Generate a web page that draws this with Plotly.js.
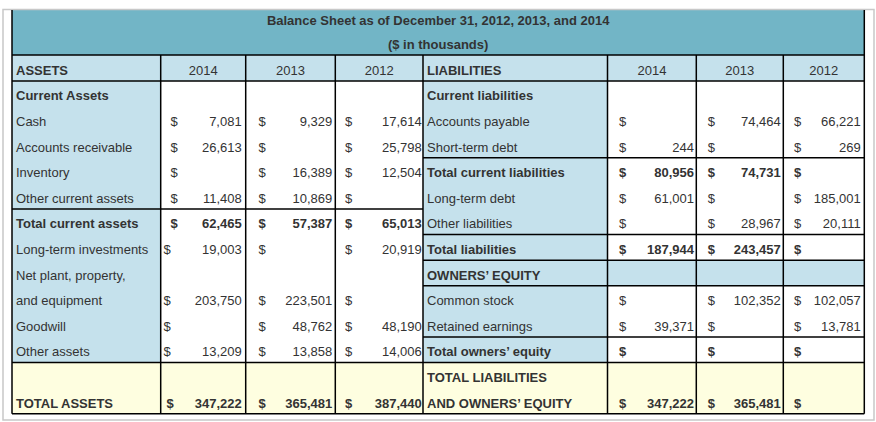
<!DOCTYPE html>
<html><head><meta charset="utf-8">
<script src="https://cdn.plot.ly/plotly-3.0.1.min.js"></script>
<style>html,body{margin:0;padding:0;background:#fff}#chart{width:876px;height:422px}</style>
</head><body><div id="chart"></div>
<script>
// ---------------- data ----------------
const titleLines = ["Balance Sheet as of December 31, 2012, 2013, and 2014", "($ in thousands)"];
const years = ["2014", "2013", "2012"];
const assetHeader = "ASSETS";
const liabHeader = "LIABILITIES";

const assetLabels = ["Current Assets", "Cash", "Accounts receivable", "Inventory", "Other current assets",
  "Total current assets", "Long-term investments", "Net plant, property,", "and equipment", "Goodwill",
  "Other assets", "", "TOTAL ASSETS"];
// null = empty cell, "" = "$" shown with no amount
const assets2014 = [null, 7081, 26613, "", 11408, 62465, 19003, null, 203750, "", 13209, null, 347222];
const assets2013 = [null, 9329, "", 16389, 10869, 57387, "", null, 223501, 48762, 13858, null, 365481];
const assets2012 = [null, 17614, 25798, 12504, "", 65013, 20919, null, "", 48190, 14006, null, 387440];

const liabLabels = ["Current liabilities", "Accounts payable", "Short-term debt", "Total current liabilities",
  "Long-term debt", "Other liabilities", "Total liabilities", "OWNERS\u2019 EQUITY", "Common stock",
  "Retained earnings", "Total owners\u2019 equity", "TOTAL LIABILITIES", "AND OWNERS\u2019 EQUITY"];
const liab2014 = [null, "", 244, 80956, 61001, "", 187944, null, "", 39371, "", null, 347222];
const liab2013 = [null, 74464, "", 74731, "", 28967, 243457, null, 102352, "", "", null, 365481];
const liab2012 = [null, 66221, 269, "", 185001, 20111, "", null, 102057, 13781, "", null, ""];

// ---------------- styling / geometry ----------------
const assetBoldRows = [0, 5, 12];
const liabBoldRows = [0, 3, 6, 7, 10, 11, 12];

const FONT = "Liberation Sans, Arial, Helvetica, sans-serif";
const TEXT = "#333333";
const TEAL = "#72b5c6";
const BLUE = "#c5e1ec";
const YELLOW = "#fefee0";
const FRAME = "#c8c8c8";

const TOP = 10, TITLE_BOTTOM = 55, HEAD_BOTTOM = 81, ROW_H = 25.6, NROWS = 13;
const TEXT_DY = 3.3;
const L_EDGES = [12, 160.7, 245.7, 335.3, 423];
const R_EDGES = [423, 607.5, 696.3, 783.3, 864.3];
const L_DOLLAR = [170.5, 258.5, 345];
const R_DOLLAR = [619, 707.7, 794];
const L_VALEND = [241.7, 332.3, 421.7];
const R_VALEND = [694, 780.7, 860.7];
const L_LABEL_X = 16, R_LABEL_X = 427;
const left2014DollarShift = [0, 0, 0, 0, 0, 0, -7, -7, -7, -7, -7, -7, -4];

// ---------------- build ----------------
const rowTop = i => HEAD_BOTTOM + ROW_H * i;
const rowY = i => HEAD_BOTTOM + ROW_H * (i + 0.5) + TEXT_DY;
const fmt = n => String(n).replace(/\B(?=(\d{3})+(?!\d))/g, ",");
const b = (s, bold) => bold ? "<b>" + s + "</b>" : s;

const leftAl = {x: [], y: [], t: []};
const rightAl = {x: [], y: [], t: []};
const centerAl = {x: [], y: [], t: []};
const push = (g, x, y, t) => { g.x.push(x); g.y.push(y); g.t.push(t); };

// title
push(centerAl, (L_EDGES[0] + R_EDGES[4]) / 2, TOP + 11.5, "<b>" + titleLines[0] + "</b>");
push(centerAl, (L_EDGES[0] + R_EDGES[4]) / 2, TOP + 35.5, "<b>" + titleLines[1] + "</b>");
// headers
const headY = (TITLE_BOTTOM + HEAD_BOTTOM) / 2 + TEXT_DY;
push(leftAl, L_LABEL_X, headY, "<b>" + assetHeader + "</b>");
push(leftAl, R_LABEL_X, headY, "<b>" + liabHeader + "</b>");
years.forEach((yr, c) => {
  push(centerAl, (L_EDGES[c + 1] + L_EDGES[c + 2]) / 2, headY, yr);
  push(centerAl, (R_EDGES[c + 1] + R_EDGES[c + 2]) / 2, headY, yr);
});

function side(labels, cols, boldRows, labelX, dollarX, valEnd, shift) {
  labels.forEach((lab, r) => {
    const bold = boldRows.includes(r);
    if (lab) push(leftAl, labelX, rowY(r), b(lab, bold));
    cols.forEach((arr, c) => {
      const v = arr[r];
      if (v === null) return;
      const dx = (c === 0 && shift) ? shift[r] : 0;
      push(leftAl, dollarX[c] + dx, rowY(r), b("$", bold));
      if (v !== "") push(rightAl, valEnd[c], rowY(r), b(fmt(v), bold));
    });
  });
}
side(assetLabels, [assets2014, assets2013, assets2012], assetBoldRows, L_LABEL_X, L_DOLLAR, L_VALEND, left2014DollarShift);
side(liabLabels, [liab2014, liab2013, liab2012], liabBoldRows, R_LABEL_X, R_DOLLAR, R_VALEND, null);

const mk = (g, pos) => ({
  type: "scatter", mode: "text", x: g.x, y: g.y, text: g.t, textposition: pos,
  textfont: {family: FONT, size: 13, color: TEXT}, hoverinfo: "skip", cliponaxis: false, showlegend: false
});
const traces = [mk(leftAl, "middle right"), mk(rightAl, "middle left"), mk(centerAl, "middle center")];

// shapes
const shapes = [];
const rect = (x0, x1, y0, y1, color) => shapes.push({type: "rect", xref: "x", yref: "y", x0, x1, y0, y1,
  fillcolor: color, line: {width: 0}, layer: "below"});
const line = (x0, y0, x1, y1, color, w) => shapes.push({type: "line", xref: "x", yref: "y", x0, y0, x1, y1,
  line: {color: color || "#000", width: w || 1.5}, layer: "above"});

const X0 = L_EDGES[0], X1 = R_EDGES[4];
rect(X0, X1, TOP, TITLE_BOTTOM, TEAL);
rect(X0, X1, TITLE_BOTTOM, HEAD_BOTTOM, BLUE);
rect(L_EDGES[0], L_EDGES[1], rowTop(0), rowTop(11), BLUE);
rect(R_EDGES[0], R_EDGES[1], rowTop(0), rowTop(11), BLUE);
rect(R_EDGES[1], R_EDGES[4], rowTop(7), rowTop(8), BLUE);
rect(X0, X1, rowTop(11), rowTop(NROWS), YELLOW);

// grid lines
const BOTTOM = rowTop(NROWS);
[...L_EDGES, ...R_EDGES.slice(1)].forEach(x => line(x, TITLE_BOTTOM, x, BOTTOM));
line(X0, TOP, X0, TITLE_BOTTOM);
line(X1, TOP, X1, TITLE_BOTTOM);
[TITLE_BOTTOM, HEAD_BOTTOM, BOTTOM].forEach(y => line(X0, y, X1, y));
[5, 11].forEach(r => line(L_EDGES[0], rowTop(r), L_EDGES[4], rowTop(r)));
[3, 6, 7, 8, 10, 11].forEach(r => line(R_EDGES[0], rowTop(r), R_EDGES[4], rowTop(r)));
// outer frame
shapes.push({type: "rect", xref: "x", yref: "y", x0: 3, x1: 874, y0: 9.5, y1: 420,
  line: {color: FRAME, width: 1.5}, fillcolor: "rgba(0,0,0,0)", layer: "below"});

const layout = {
  width: 876, height: 422, margin: {l: 0, r: 0, t: 0, b: 0},
  paper_bgcolor: "#fff", plot_bgcolor: "#fff",
  xaxis: {range: [0, 876], visible: false, fixedrange: true},
  yaxis: {range: [422, 0], visible: false, fixedrange: true},
  shapes, hovermode: false, showlegend: false
};
Plotly.newPlot("chart", traces, layout, {staticPlot: true, displayModeBar: false});
</script></body></html>
